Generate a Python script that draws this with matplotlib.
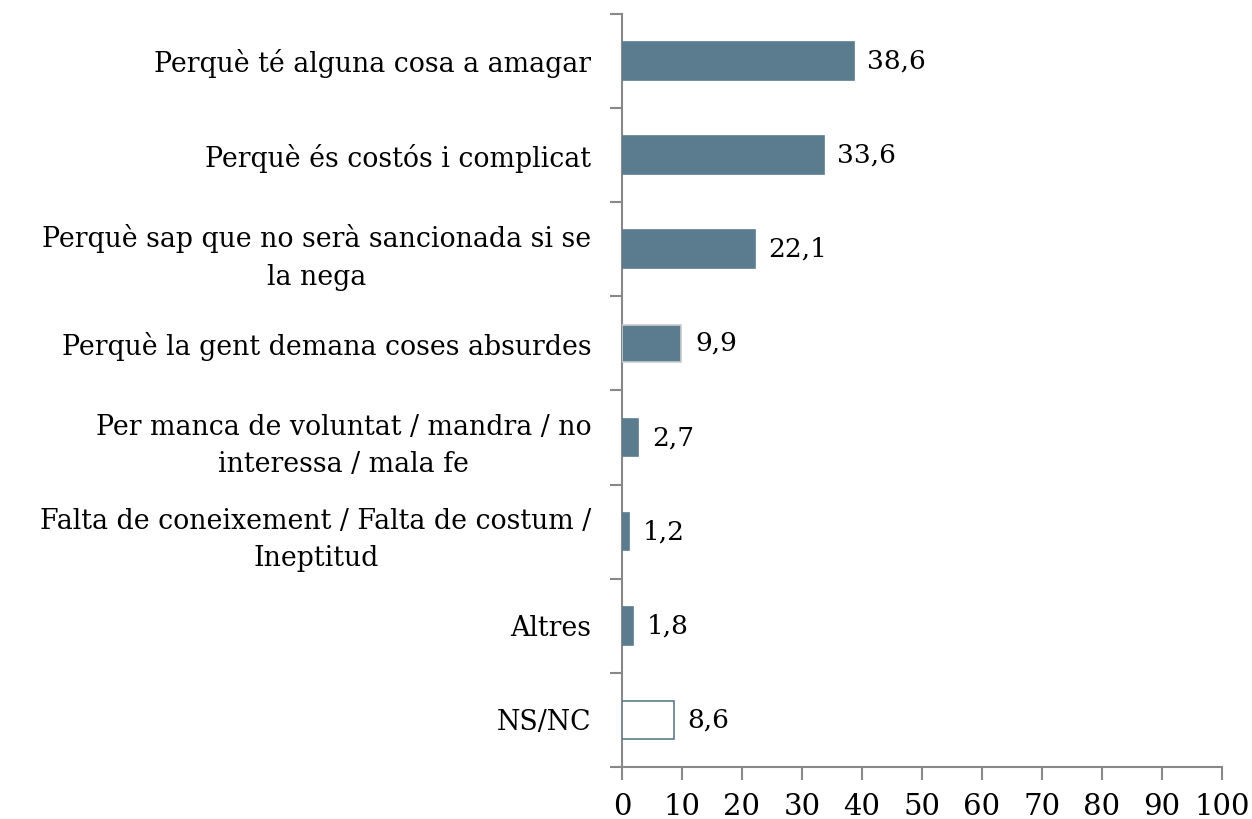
import matplotlib
matplotlib.use("Agg")
import matplotlib.pyplot as plt
import numpy as np

categories = [
    "Perquè té alguna cosa a amagar",
    "Perquè és costós i complicat",
    "Perquè sap que no serà sancionada si se\nla nega",
    "Perquè la gent demana coses absurdes",
    "Per manca de voluntat / mandra / no\ninteressa / mala fe",
    "Falta de coneixement / Falta de costum /\nIneptitud",
    "Altres",
    "NS/NC",
]
values = [38.6, 33.6, 22.1, 9.9, 2.7, 1.2, 1.8, 8.6]
value_labels = ["38,6", "33,6", "22,1", "9,9", "2,7", "1,2", "1,8", "8,6"]
xticks = [0, 10, 20, 30, 40, 50, 60, 70, 80, 90, 100]

bar_color = "#5B7B8E"
fills = [bar_color] * 7 + ["white"]
edges = [bar_color, bar_color, bar_color, "#C8CCCF", bar_color, bar_color, bar_color, bar_color]

plt.rcParams['font.family'] = ['DejaVu Serif']
fig = plt.figure(figsize=(12.52, 8.19), dpi=100)
ax = fig.add_axes([0.4968, 0.0635, 0.976 - 0.4968, 0.983 - 0.0635])

y = np.arange(len(categories))
ax.barh(y, values, height=0.4, color=fills, edgecolor=edges, linewidth=1.2, zorder=3)
for yi, v, lab in zip(y, values, value_labels):
    ax.text(v + 2.3, yi, lab, va='center', ha='left', fontsize=19)

ax.set_xlim(0, 100)
ax.set_ylim(len(categories) - 0.5, -0.5)
ax.set_xticks(xticks)
ax.set_xticklabels([str(t) for t in xticks], fontsize=21)
ax.set_yticks(y)
ax.set_yticklabels(categories, fontsize=19.3, multialignment='center', linespacing=1.5)
ax.set_yticks(np.arange(-0.5, len(categories)), minor=True)
ax.tick_params(axis='y', which='major', length=0, pad=22)
ax.tick_params(axis='y', which='minor', length=9, width=1.5, color='#888888', direction='out')
ax.tick_params(axis='x', which='major', length=9, width=1.5, color='#888888', direction='out', pad=10)
for s in ['top', 'right']:
    ax.spines[s].set_visible(False)
for s in ['left', 'bottom']:
    ax.spines[s].set_color('#888888')
    ax.spines[s].set_linewidth(1.5)

fig.savefig("out.png", dpi=100)
